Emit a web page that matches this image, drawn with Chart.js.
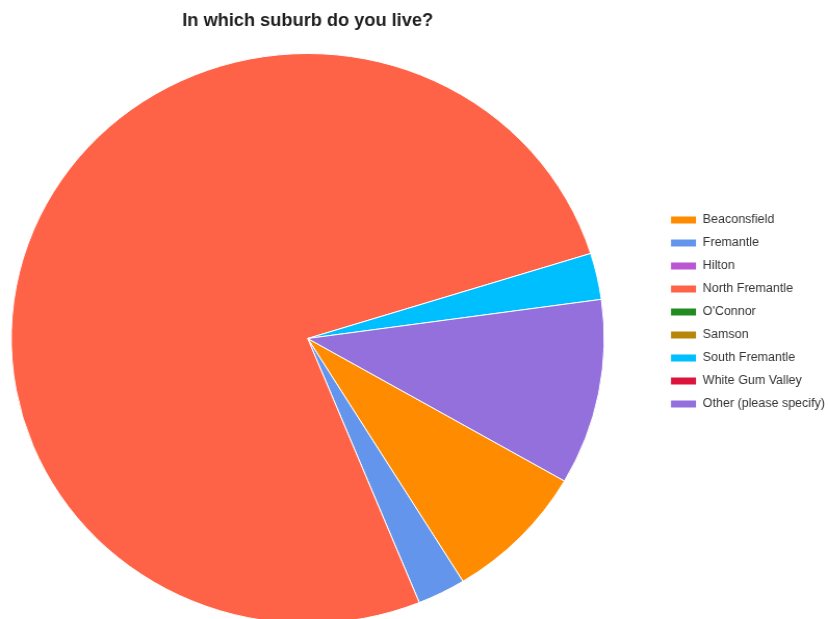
<!DOCTYPE html>
<html>
<head>
<meta charset="utf-8">
<title>In which suburb do you live?</title>
<script src="https://cdn.jsdelivr.net/npm/chart.js@4"></script>
<style>
  html, body { margin: 0; padding: 0; background: #fff; overflow: hidden; }
  /* chart is laid out narrower and widened a touch to fill the page */
  #outer {
    width: 796px;
    height: 624px;
    transform: scaleX(1.0402);
    transform-origin: 0 0;
  }
  /* pie sits close to the left edge, so the canvas starts a bit off-page */
  #wrap {
    position: relative;
    left: -42px;
    width: 845px;
    height: 624px;
  }
</style>
</head>
<body>
<div id="outer"><div id="wrap"><canvas id="chart"></canvas></div></div>
<script>
const suburbs = ['Beaconsfield', 'Fremantle', 'Hilton', 'North Fremantle', "O'Connor",
                 'Samson', 'South Fremantle', 'White Gum Valley', 'Other (please specify)'];
const responses = [3, 1, 0, 29, 0, 0, 1, 0, 4];
const colours = ['#ff8c00', '#6495ed', '#ba55d3', '#ff6347', '#228b22',
                 '#b8860b', '#00bfff', '#dc143c', '#9370db'];

let config = {
    type: 'pie',
    data: {
        labels: suburbs,
        datasets: [{
            data: responses,
            backgroundColor: colours,
            borderColor: '#ffffff',
            borderWidth: 1,
            hoverOffset: 0,
        }]
    },
    options: {
        responsive: true,
        maintainAspectRatio: false,
        animation: false,
        rotation: 120,
        plugins: {
            title: {
                display: true,
                text: 'In which suburb do you live?',
                fullSize: false,
                color: '#1e1e1e',
                font: { family: '"Liberation Sans", Arial, sans-serif', size: 17.5, weight: 'bold' },
                padding: { top: 11, bottom: 21 },
            },
            legend: {
                position: 'right',
                labels: {
                    boxWidth: 25,
                    boxHeight: 8,
                    padding: 11,
                    color: '#333',
                    font: { family: '"Liberation Sans", Arial, sans-serif', size: 12 },
                },
            },
            tooltip: { enabled: false },
        },
    },
};

new Chart(document.getElementById('chart'), config);
</script>
</body>
</html>
